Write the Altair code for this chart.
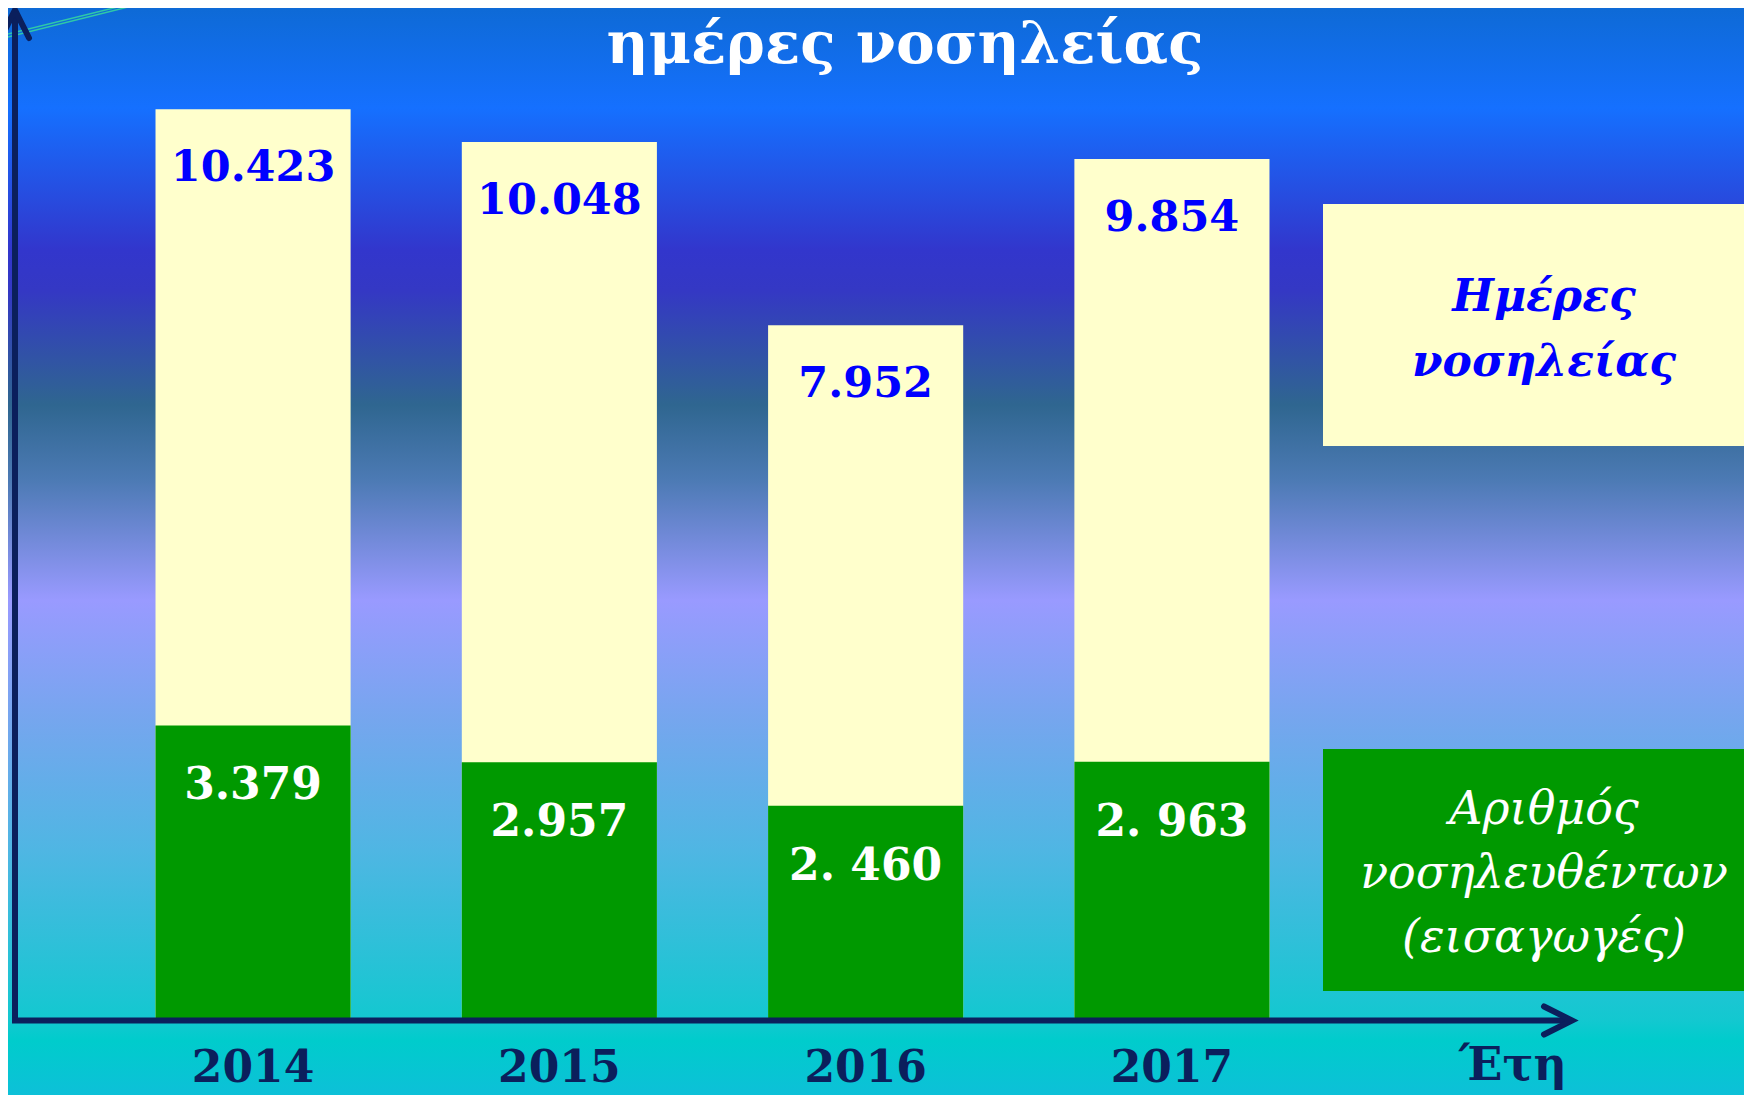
import altair as alt
import pandas as pd

# ---- data ----
YEARS = ["2014", "2015", "2016", "2017"]
DAYS = [10423, 10048, 7952, 9854]
ADMISSIONS = [3379, 2957, 2460, 2963]
DAYS_LABELS = ["10.423", "10.048", "7.952", "9.854"]
ADM_LABELS = ["3.379", "2.957", "2. 460", "2. 963"]
LEGEND_DAYS = "Ημέρες\nνοσηλείας"
LEGEND_ADM = "Αριθμός\nνοσηλευθέντων\n(εισαγωγές)"
TITLE = "ημέρες νοσηλείας"
X_TITLE = "Έτη"

W, H = 1736, 1087
NAVY = "#0B1F5C"
CREAM = "#FFFFCC"
GREEN = "#009900"
BLUE = "#0000FF"
FONT = "DejaVu Serif"

df = pd.DataFrame({
    "year": YEARS,
    "days": DAYS,
    "adm": ADMISSIONS,
    "days_lbl": DAYS_LABELS,
    "adm_lbl": ADM_LABELS,
})

xscale = alt.Scale(domain=YEARS, range=[25, 1384], paddingInner=0.363, paddingOuter=0.4)
yscale = alt.Scale(domain=[-846, 11579], nice=False, zero=False)
X = alt.X("year:N", scale=xscale, axis=None)

one = pd.DataFrame({"k": [0]})

bg = alt.Chart(one).mark_rect(
    color=alt.LinearGradient(
        gradient="linear", x1=0, x2=0, y1=0, y2=1,
        stops=[
            alt.GradientStop(offset=0.0, color="#0E6AD6"),
            alt.GradientStop(offset=0.092, color="#1570FF"),
            alt.GradientStop(offset=0.223, color="#3236CC"),
            alt.GradientStop(offset=0.26, color="#3438C4"),
            alt.GradientStop(offset=0.365, color="#2F6690"),
            alt.GradientStop(offset=0.434, color="#4C7AB4"),
            alt.GradientStop(offset=0.545, color="#999AFF"),
            alt.GradientStop(offset=0.655, color="#75A6EE"),
            alt.GradientStop(offset=0.775, color="#4FB6E3"),
            alt.GradientStop(offset=0.931, color="#13C8D0"),
            alt.GradientStop(offset=0.95, color="#00CCCC"),
            alt.GradientStop(offset=1.0, color="#0DC0D8"),
        ],
    )
).encode(x=alt.value(0), x2=alt.value("width"), y=alt.value(0), y2=alt.value("height"))

deco1 = alt.Chart(one).mark_rule(color="#2FC8A8", strokeWidth=1.5).encode(
    x=alt.value(-8), y=alt.value(31), x2=alt.value(148), y2=alt.value(-8))
deco2 = alt.Chart(one).mark_rule(color="#2FC8A8", strokeWidth=1.5).encode(
    x=alt.value(-8), y=alt.value(28), x2=alt.value(138), y2=alt.value(-8))

base = alt.Chart(df)

bars_days = base.mark_bar(color=CREAM).encode(
    x=X, y=alt.Y("days:Q", scale=yscale, axis=None, stack=None), y2=alt.datum(0))
bars_adm = base.mark_bar(color=GREEN).encode(
    x=X, y=alt.Y("adm:Q", scale=yscale, axis=None, stack=None), y2=alt.datum(0))

lbl_days = base.mark_text(font=FONT, fontWeight="bold", fontSize=43, color=BLUE,
                          baseline="alphabetic", dy=72).encode(
    x=X, y=alt.Y("days:Q", scale=yscale, axis=None), text="days_lbl:N")
lbl_adm = base.mark_text(font=FONT, fontWeight="bold", fontSize=44, color="white",
                         baseline="alphabetic", dy=74).encode(
    x=X, y=alt.Y("adm:Q", scale=yscale, axis=None), text="adm_lbl:N")

year_lbl = base.mark_text(font=FONT, fontWeight="bold", fontSize=44, color=NAVY,
                          baseline="alphabetic").encode(
    x=X, y=alt.value(1074), text="year:N")

# legend boxes
leg_days_box = alt.Chart(one).mark_rect(color=CREAM).encode(
    x=alt.value(1315), x2=alt.value("width"), y=alt.value(196), y2=alt.value(438))
leg_adm_box = alt.Chart(one).mark_rect(color=GREEN).encode(
    x=alt.value(1315), x2=alt.value("width"), y=alt.value(741), y2=alt.value(983))

leg_days_txt = alt.Chart(pd.DataFrame({"t": [LEGEND_DAYS]})).mark_text(
    font=FONT, fontWeight="bold", fontStyle="italic", fontSize=44, color=BLUE,
    baseline="alphabetic", lineBreak="\n", lineHeight=65, align="center").encode(
    x=alt.value(1536), y=alt.value(303), text="t:N")
leg_adm_txt = alt.Chart(pd.DataFrame({"t": [LEGEND_ADM]})).mark_text(
    font=FONT, fontStyle="italic", fontSize=46, color="white",
    baseline="alphabetic", lineBreak="\n", lineHeight=64, align="center").encode(
    x=alt.value(1536), y=alt.value(816), text="t:N")

# axes with arrows
yaxis = alt.Chart(one).mark_rule(color=NAVY, strokeWidth=6).encode(
    x=alt.value(7), y=alt.value(6), y2=alt.value(1015))
xaxis = alt.Chart(one).mark_rule(color=NAVY, strokeWidth=6).encode(
    x=alt.value(4), x2=alt.value(1562), y=alt.value(1012.5))
arrow_up = alt.Chart(one).mark_point(
    shape="M-1,1L0,-1L1,1", filled=False, size=784, stroke=NAVY, strokeWidth=6,
    strokeCap="round", strokeJoin="miter", opacity=1).encode(
    x=alt.value(7), y=alt.value(16))
arrow_right = alt.Chart(one).mark_point(
    shape="M-1,-1L1,0L-1,1", filled=False, size=784, stroke=NAVY, strokeWidth=6,
    strokeCap="round", strokeJoin="miter", opacity=1).encode(
    x=alt.value(1550), y=alt.value(1012.5))

xtitle = alt.Chart(pd.DataFrame({"t": [X_TITLE]})).mark_text(
    font=FONT, fontWeight="bold", fontSize=46, color=NAVY, baseline="alphabetic").encode(
    x=alt.value(1505), y=alt.value(1072), text="t:N")

title = alt.Chart(pd.DataFrame({"t": [TITLE]})).mark_text(
    font=FONT, fontWeight="bold", fontSize=58, color="white", baseline="alphabetic").encode(
    x=alt.value(897), y=alt.value(55), text="t:N")

chart = alt.layer(
    bg, deco1, deco2, bars_days, bars_adm, lbl_days, lbl_adm,
    leg_days_box, leg_adm_box, leg_days_txt, leg_adm_txt,
    yaxis, xaxis, arrow_up, arrow_right, year_lbl, xtitle, title,
).properties(
    width=W, height=H, padding=0, autosize=alt.AutoSizeParams(type="none")
).configure_view(stroke=None)

chart.save("out.html", embed_options={"renderer": "svg", "actions": False})
